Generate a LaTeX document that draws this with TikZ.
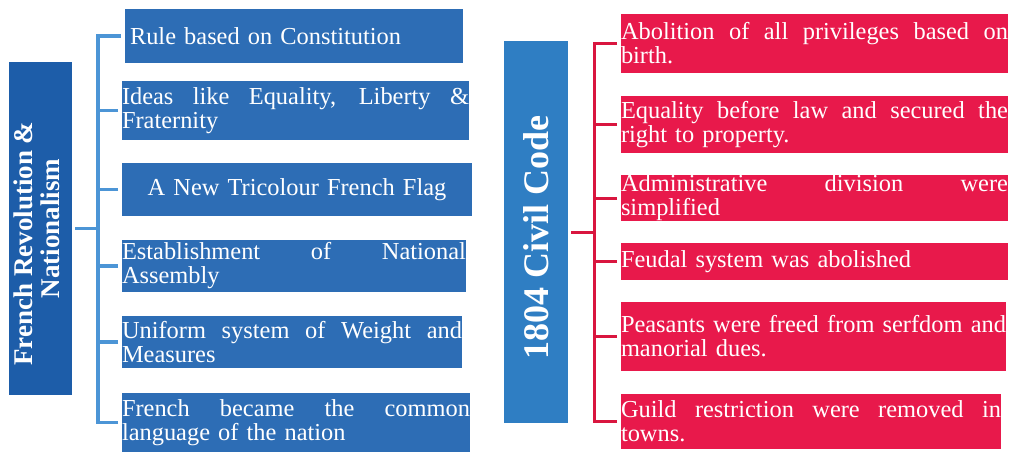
\documentclass[tikz,border=0pt]{standalone}
\usepackage{fontspec}
\setmainfont{Liberation Serif}
\usepackage{graphicx}
\newcommand\jl[1]{\makebox[\linewidth][s]{\spaceskip=0pt\xspaceskip=0pt #1}}
\definecolor{cLT}{HTML}{1D5DA9}
\definecolor{cLB}{HTML}{2D6DB5}
\definecolor{cLL}{HTML}{4C95D6}
\definecolor{cRT}{HTML}{2F7EC3}
\definecolor{cRB}{HTML}{E8194B}
\definecolor{cRL}{HTML}{D9163F}
\begin{document}
\begin{tikzpicture}[x=1pt,y=-1pt,
  every node/.style={inner sep=0pt, outer sep=0pt},
  itembox/.style={rectangle, text=white, font=\fontsize{24.4}{24}\selectfont, align=left, inner xsep=0pt, inner ysep=0pt},
  lbox/.style={itembox, fill=cLB},
  rbox/.style={itembox, fill=cRB},
  titlebox/.style={rectangle, text=white, inner sep=0pt},
  lconn/.style={draw=cLL, line width=3.4pt},
  rconn/.style={draw=cRL, line width=3pt},
]
\useasboundingbox (0,0) rectangle (1012,452);

% left title
\node[titlebox, fill=cLT, minimum width=63pt, minimum height=333pt,
      font=\bfseries\fontsize{27}{27}\selectfont] (lt) at (40.5,228.5)
  {\rotatebox{90}{\begin{tabular}{@{}c@{}}French Revolution \&\hspace*{30pt}\\Nationalism\end{tabular}}};

% left items
\node[lbox, minimum width=338pt, minimum height=54pt, text width=328pt, inner xsep=5pt] (L1) at (294,36) {Rule based on Constitution};
\node[lbox, minimum width=347pt, minimum height=59pt, text width=347pt] (L2) at (295.5,110.5) {\jl{Ideas like Equality, Liberty \&}\\Fraternity};
\node[lbox, minimum width=350pt, minimum height=53pt, text width=350pt, align=center] (L3) at (297,189.5) {A New Tricolour French Flag};
\node[lbox, minimum width=344pt, minimum height=52pt, text width=344pt] (L4) at (294,266) {\jl{Establishment of National}\\Assembly};
\node[lbox, minimum width=340pt, minimum height=52pt, text width=340pt] (L5) at (292,342) {\jl{Uniform system of Weight and}\\Measures};
\node[lbox, minimum width=348pt, minimum height=59pt, text width=348pt] (L6) at (296,422.5) {\jl{French became the common}\\language of the nation};

% left connectors
\coordinate (lj) at (98,228.5);
\draw[lconn] ([xshift=3pt]lt.east) -- (lj);
\foreach \n in {L1,L2,L3,L4,L5,L6} \draw[lconn] ([xshift=-4pt]\n.west) -| (lj);

% right title
\node[titlebox, fill=cRT, minimum width=64pt, minimum height=382pt,
      font=\bfseries\fontsize{36}{36}\selectfont] (rt) at (536,232)
  {\rotatebox{90}{1804 Civil Code\hspace*{11pt}}};

% right items
\node[rbox, minimum width=387pt, minimum height=59pt, text width=387pt] (R1) at (814.5,43.5) {\jl{Abolition of all privileges based on}\\birth.};
\node[rbox, minimum width=387pt, minimum height=57pt, text width=387pt] (R2) at (814.5,124.5) {\jl{Equality before law and secured the}\\right to property.};
\node[rbox, minimum width=387pt, minimum height=46pt, text width=387pt] (R3) at (814.5,198) {\jl{Administrative division were}\\simplified};
\node[rbox, minimum width=387pt, minimum height=37pt, text width=387pt] (R4) at (814.5,261.5) {Feudal system was abolished};
\node[rbox, minimum width=385pt, minimum height=69pt, text width=385pt] (R5) at (813.5,336.5) {\jl{Peasants were freed from serfdom and}\\manorial dues.};
\node[rbox, minimum width=380pt, minimum height=55pt, text width=380pt] (R6) at (811,421.5) {\jl{Guild restriction were removed in}\\towns.};

% right connectors
\coordinate (rj) at (594,232);
\draw[rconn] ([xshift=3pt]rt.east) -- (rj);
\foreach \n in {R1,R2,R3,R4,R5,R6} \draw[rconn] ([xshift=-4pt]\n.west) -| (rj);
\end{tikzpicture}
\end{document}
